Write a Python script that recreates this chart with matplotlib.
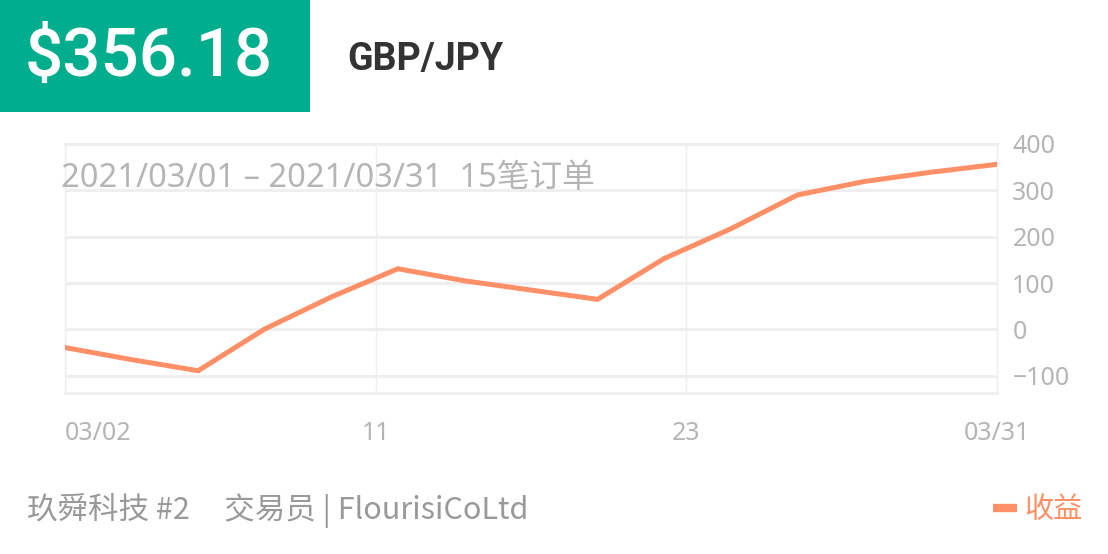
import numpy as np
import matplotlib
matplotlib.use("Agg")
import matplotlib.pyplot as plt
import matplotlib.transforms as mtransforms
from matplotlib.patches import Rectangle
from matplotlib.lines import Line2D

plt.rcParams['font.family'] = ['Noto Sans', 'Noto Sans CJK SC', 'DejaVu Sans']

# --- data ---
profit = [-39, -65, -89, 1, 70, 131, 105, 85, 65, 153, 217, 290, 319, 339, 356.18]
x_tick_labels = ["03/02", "11", "23", "03/31"]
y_ticks = [-100, 0, 100, 200, 300, 400]
total_text = "$356.18"
symbol = "GBP/JPY"
period_text = "2021/03/01 \u2013 2021/03/31  15笔订单"
footer_text = "玖舜科技 #2     交易员 | FlourisiCoLtd"
legend_label = "收益"

W, H = 1108, 554
GREEN = "#00AE8E"
ORANGE = "#FF8F66"
GRID = "#EFEFEF"
LABEL = "#B5B5B5"

fig = plt.figure(figsize=(W / 100, H / 100), dpi=100)

def fx(px):
    return px / W

def fy(py):
    return 1 - py / H

# header
fig.patches.append(Rectangle((0, fy(112)), fx(310), 112 / H, transform=fig.transFigure,
                             facecolor=GREEN, edgecolor="none"))
fig.text(fx(25), fy(58), total_text, color="white", fontsize=48.5, fontweight="medium",
         va="center", ha="left", family=["Roboto", "Noto Sans"])
fig.text(fx(347), fy(59), symbol, color="#333333", fontsize=27, fontweight="bold",
         va="center", ha="left", family=["Roboto", "Noto Sans"])

# chart
ax = fig.add_axes([fx(65), fy(393), fx(997) - fx(65), (393 - 144) / H])
n = len(profit)
xs = np.arange(n)
ax.plot(xs, profit, color=ORANGE, linewidth=3.6, solid_joinstyle="miter", zorder=3)
ax.set_xlim(0, n - 1)
ax.set_ylim(-137, 400)

ax.yaxis.tick_right()
ax.set_yticks(y_ticks)
ax.set_yticklabels(["\u2212100" if v < 0 else str(v) for v in y_ticks])
xt = [0, (n - 1) / 3, 2 * (n - 1) / 3, n - 1]
ax.set_xticks(xt)
ax.set_xticklabels(x_tick_labels)
ax.tick_params(axis="both", length=0, labelcolor=LABEL, labelsize=18)
ax.tick_params(axis="x", pad=20)
ax.tick_params(axis="y", pad=11)
labels = ax.get_xticklabels()
labels[0].set_ha("left")
labels[-1].set_ha("right")
ax.grid(axis="y", color=GRID, linewidth=2.2)
ax.grid(axis="x", color=GRID, linewidth=1)
for s in ax.spines.values():
    s.set_color(GRID)
    s.set_linewidth(1)
ax.spines["bottom"].set_linewidth(2.2)
ax.spines["top"].set_linewidth(2.2)

# last x label ends right of the plot area
off = mtransforms.ScaledTranslation(33 / 100, 0, fig.dpi_scale_trans)
labels[-1].set_transform(labels[-1].get_transform() + off)

fig.text(fx(61), fy(178), period_text, color=LABEL, fontsize=23.5, va="center", ha="left",
         family=['Noto Sans', 'Noto Sans CJK SC'])

# footer
fig.text(fx(27), fy(510), footer_text, color="#999999", fontsize=22, va="center", ha="left",
         family=['Noto Sans CJK SC', 'Noto Sans'])
fig.lines.append(Line2D([fx(993), fx(1017)], [fy(508), fy(508)], transform=fig.transFigure,
                        color=ORANGE, linewidth=6, solid_capstyle="butt"))
fig.text(fx(1024), fy(510), legend_label, color=ORANGE, fontsize=21, va="center", ha="left",
         family=['Noto Sans CJK SC'])

fig.savefig("out.png", dpi=100)
